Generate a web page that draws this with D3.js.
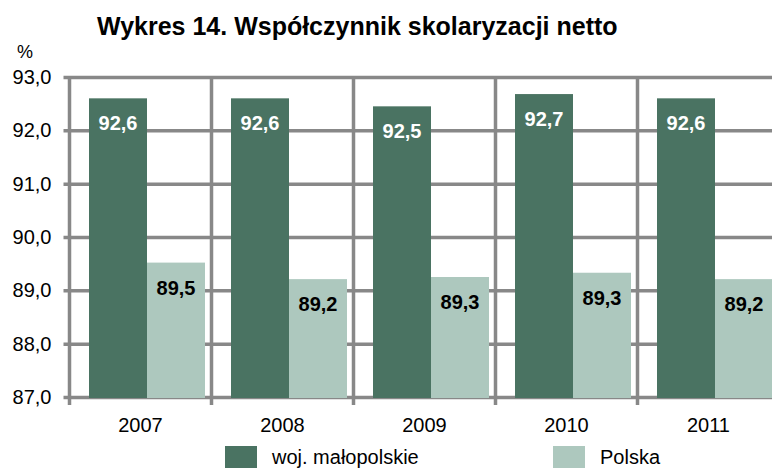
<!DOCTYPE html>
<html>
<head>
<meta charset="utf-8">
<script src="https://cdn.jsdelivr.net/npm/d3@7"></script>
<style>
  body { margin: 0; background: #fff; }
  svg { display: block; font-family: "Liberation Sans", Arial, sans-serif; }
</style>
</head>
<body>
<script>
// data
const years = ['2007', '2008', '2009', '2010', '2011'];
const series = ['woj. małopolskie', 'Polska'];
const regionValues = [92.6, 92.6, 92.45, 92.68, 92.6];
const polandValues = [89.52, 89.21, 89.25, 89.33, 89.21];
const regionLabels = ['92,6', '92,6', '92,5', '92,7', '92,6'];
const polandLabels = ['89,5', '89,2', '89,3', '89,3', '89,2'];
const yTicks = [87, 88, 89, 90, 91, 92, 93];

const width = 772, height = 468;
const colors = ['#4a7362', '#adc8be'];
const gridColor = '#888888';

const svg = d3.select('body').append('svg')
  .attr('width', width)
  .attr('height', height);

// title
svg.append('text')
  .attr('x', 97)
  .attr('y', 35)
  .style('font-size', '25px')
  .style('font-weight', 'bold')
  .text('Wykres 14. Współczynnik skolaryzacji netto');

svg.append('text')
  .attr('x', 25)
  .attr('y', 58)
  .attr('text-anchor', 'middle')
  .style('font-size', '18px')
  .text('%');

// scales
const x = d3.scaleBand()
  .domain(years)
  .range([69.5, 779.5]);

// bars sit a bit right of the category centre, like the original
const xInner = d3.scaleBand()
  .domain(series)
  .range([19.5, 135.5]);

const y = d3.scaleLinear()
  .domain([87, 93])
  .range([397, 77]);

// horizontal grid + y labels
const yAxis = svg.append('g')
  .attr('transform', 'translate(69.5,0)')
  .call(d3.axisLeft(y)
    .tickValues(yTicks)
    .tickSizeInner(-(x.range()[1] - x.range()[0]))
    .tickSizeOuter(0)
    .tickPadding(18)
    .tickFormat(d => d3.format('.1f')(d).replace('.', ',')));

yAxis.select('.domain').remove();
yAxis.selectAll('.tick line')
  .attr('x1', -6)
  .attr('stroke', gridColor)
  .attr('stroke-width', 3.5);
yAxis.selectAll('.tick text')
  .attr('fill', '#000')
  .style('font-size', '20px')
  .style('font-family', '"Liberation Sans", Arial, sans-serif');

// vertical category separators
const bounds = years.map(d => x(d)).concat([x.range()[1]]);
svg.append('g')
  .selectAll('line')
  .data(bounds)
  .join('line')
  .attr('x1', d => d)
  .attr('x2', d => d)
  .attr('y1', y(93))
  .attr('y2', y(87) + 8)
  .attr('stroke', gridColor)
  .attr('stroke-width', 3.5);

// x labels
svg.append('g')
  .selectAll('text')
  .data(years)
  .join('text')
  .attr('x', d => x(d) + x.bandwidth() / 2)
  .attr('y', 432)
  .attr('text-anchor', 'middle')
  .style('font-size', '20px')
  .text(d => d);

// bars
const rows = years.map((yr, i) => ({
  year: yr,
  vals: [
    {s: series[0], v: regionValues[i], label: regionLabels[i], c: colors[0], t: '#fff'},
    {s: series[1], v: polandValues[i], label: polandLabels[i], c: colors[1], t: '#000'}
  ]
}));

const groups = svg.append('g')
  .selectAll('g')
  .data(rows)
  .join('g')
  .attr('transform', d => 'translate(' + x(d.year) + ',0)');

groups.selectAll('rect')
  .data(d => d.vals)
  .join('rect')
  .attr('x', d => xInner(d.s))
  .attr('width', xInner.bandwidth())
  .attr('y', d => y(d.v))
  .attr('height', d => y(87) - y(d.v) + 1)
  .attr('fill', d => d.c);

groups.selectAll('text')
  .data(d => d.vals)
  .join('text')
  .attr('x', d => xInner(d.s) + xInner.bandwidth() / 2)
  .attr('y', d => y(d.v) + 32)
  .attr('text-anchor', 'middle')
  .attr('fill', d => d.t)
  .style('font-size', '20px')
  .style('font-weight', 'bold')
  .text(d => d.label);

// legend
const legendX = [225, 553];
const legend = svg.append('g')
  .selectAll('g')
  .data(series)
  .join('g')
  .attr('transform', (d, i) => 'translate(' + legendX[i] + ',446)');

legend.append('rect')
  .attr('width', 32)
  .attr('height', 32)
  .attr('fill', (d, i) => colors[i]);

legend.append('text')
  .attr('x', 47)
  .attr('y', 18)
  .style('font-size', '20px')
  .text(d => d);
</script>
</body>
</html>
